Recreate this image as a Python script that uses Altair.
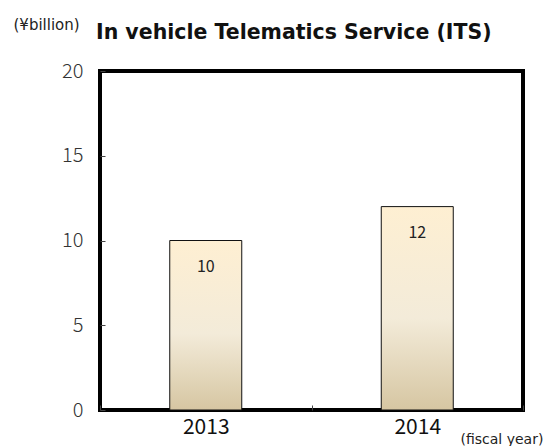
import altair as alt
import pandas as pd

# Fiscal-year sales of the in-vehicle telematics service (¥ billion)
years = ["2013", "2014"]
sales = [10, 12]

df = pd.DataFrame({"year": years, "sales": sales})

cream_gradient = alt.Gradient(
    gradient="linear",
    x1=0, x2=0, y1=0, y2=1,
    stops=[
        alt.GradientStop(color="#FEEFD2", offset=0),
        alt.GradientStop(color="#F3EBD9", offset=0.55),
        alt.GradientStop(color="#D6C6A2", offset=1),
    ],
)

x_enc = alt.X(
    "year:N",
    title="(fiscal year)",
    scale=alt.Scale(paddingInner=0, paddingOuter=0),
    axis=alt.Axis(
        labelAngle=0,
        labelFont="Noto Sans CJK JP",
        labelFontSize=21,
        labelColor="#111111",
        labelPadding=6,
        domain=False,
        ticks=True,
        tickBand="extent",
        tickSize=5,
        tickColor="#444444",
        offset=-5,
        titleFont="DejaVu Sans",
        titleFontSize=14,
        titleFontWeight="normal",
        titleColor="#222222",
        titleAlign="left",
        titleBaseline="middle",
        titleX=360,
        titleY=34,
    ),
)

y_enc = alt.Y(
    "sales:Q",
    title="(¥billion)",
    scale=alt.Scale(domain=[0, 20], nice=False),
    axis=alt.Axis(
        values=[0, 5, 10, 15, 20],
        grid=False,
        domain=False,
        tickSize=5,
        tickColor="#444444",
        offset=-5,
        labelFont="Noto Sans CJK JP",
        labelFontSize=20,
        labelFontWeight=300,
        labelColor="#333333",
        labelPadding=17,
        titleFont="DejaVu Sans",
        titleFontSize=15,
        titleFontWeight="normal",
        titleColor="#222222",
        titleAngle=0,
        titleAlign="left",
        titleBaseline="middle",
        titleX=-92,
        titleY=-47,
    ),
)

bars = alt.Chart(df).mark_bar(
    size=72, color=cream_gradient, stroke="#111111", strokeWidth=1
).encode(x=x_enc, y=y_enc)

labels = alt.Chart(df).mark_text(
    baseline="middle", dy=26, font="Noto Sans CJK JP", fontSize=16, color="#222222"
).encode(x="year:N", y="sales:Q", text="sales:Q")

chart = (
    (bars + labels)
    .properties(
        width=423,
        height=339,
        autosize=alt.AutoSizeParams(type="none"),
        padding={"left": 100, "top": 71, "right": 27, "bottom": 36},
        title=alt.TitleParams(
            "In vehicle Telematics Service (ITS)",
            anchor="start",
            frame="group",
            font="DejaVu Sans",
            fontSize=20.5,
            fontWeight="bold",
            color="#111111",
            dx=-4,
            dy=26,
            offset=0,
        ),
    )
    .configure_view(stroke="#000000", strokeWidth=4)
)

chart.save("out.html", embed_options={"renderer": "svg", "actions": False})
